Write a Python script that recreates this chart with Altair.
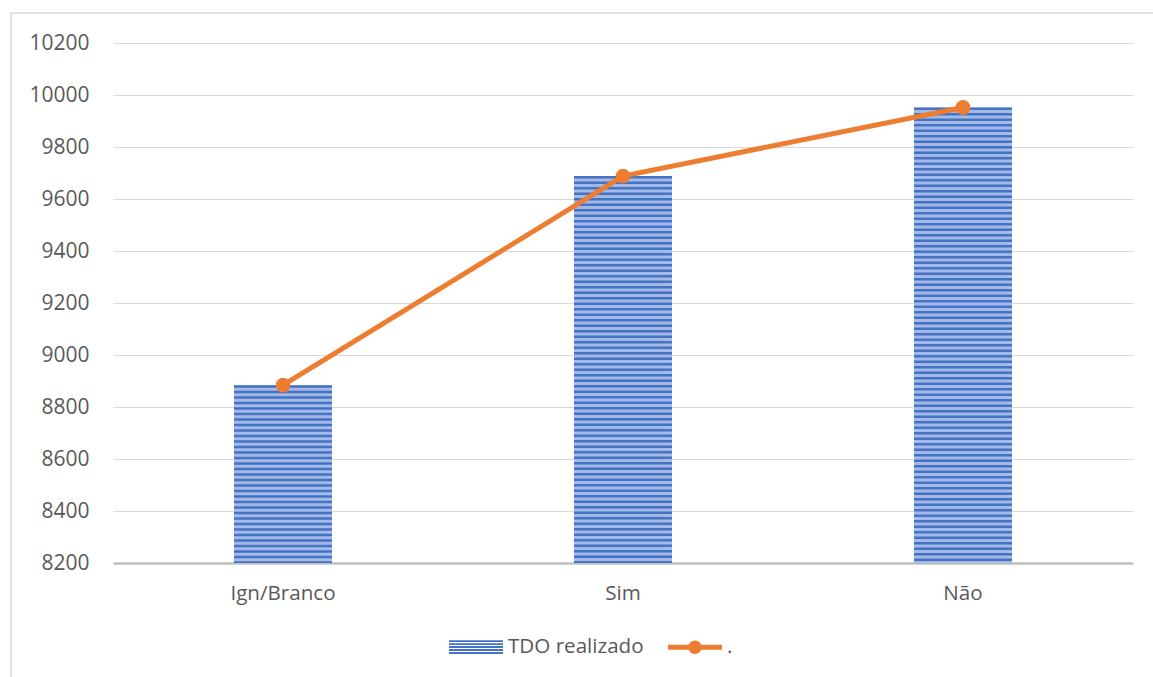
import altair as alt
import pandas as pd

categories = ["Ign/Branco", "Sim", "Não"]
tdo_realizado = [8884, 9688, 9952]
linha = [8884, 9688, 9952]
y_ticks = [8200, 8400, 8600, 8800, 9000, 9200, 9400, 9600, 9800, 10000, 10200]
legend_items = ["TDO realizado", "."]

df = pd.DataFrame({"cat": categories, "tdo": tdo_realizado, "linha": linha})
leg_df = pd.DataFrame({"s": legend_items})

FONT = "Open Sans"
TXT = "#595959"
BLUE = "#4472c4"
LIGHT = "#a4bae6"
ORANGE = "#ed7d31"

x_enc = alt.X(
    "cat:N",
    sort=categories,
    scale=alt.Scale(paddingInner=0.712, paddingOuter=0.356),
    axis=alt.Axis(
        title=None, labelAngle=0, ticks=False, domain=True,
        domainColor="#bfbfbf", domainWidth=2.5, labelPadding=20,
        labelFont=FONT, labelFontSize=20.6, labelColor=TXT, grid=False,
    ),
)
y_scale = alt.Scale(domain=[8200, 10200], nice=False, zero=False)
y_axis = alt.Axis(
    title=None, values=y_ticks, domain=False, ticks=False, grid=True,
    gridColor="#d9d9d9", gridWidth=1, labelPadding=24, labelFont=FONT,
    labelFontSize=21, labelColor=TXT, format="d",
)

base = alt.Chart(df)

border = alt.Chart(leg_df).mark_rect(
    fill=None, stroke="#d9d9d9", strokeWidth=1.5
).encode(
    x=alt.value(-102), x2=alt.value(1050), y=alt.value(-30), y2=alt.value(650)
).transform_filter(alt.datum.s == ".")

bars = base.mark_bar(color=LIGHT).encode(
    x=x_enc,
    y=alt.Y("tdo:Q", scale=y_scale, axis=y_axis),
    y2=alt.datum(8200),
)

stripes = base.mark_rule(
    color=BLUE, strokeWidth=98, strokeDash=[2.5, 3], strokeCap="butt"
).encode(
    x=alt.X("cat:N", sort=categories),
    y=alt.Y("tdo:Q"),
    y2=alt.datum(8200),
)

line = base.mark_line(color=ORANGE, strokeWidth=5).encode(
    x=alt.X("cat:N", sort=categories),
    y=alt.Y("linha:Q"),
)
points = base.mark_point(filled=True, color=ORANGE, size=220, opacity=1).encode(
    x=alt.X("cat:N", sort=categories),
    y=alt.Y("linha:Q"),
)

bar_path = " ".join(
    f"M-1,{-0.26 + k * 0.11:.3f}H1V{-0.26 + k * 0.11 + 0.07:.3f}H-1Z" for k in range(5)
)
line_path = (
    "M-1,-0.09H1V0.09H-1Z "
    "M0.25,0A0.25,0.25 0 1,1 -0.25,0A0.25,0.25 0 1,1 0.25,0Z"
)

legend_layer = alt.Chart(leg_df).mark_point(filled=True, opacity=1, size=2916).encode(
    x=alt.value(-2000),
    y=alt.value(-2000),
    color=alt.Color(
        "s:N",
        scale=alt.Scale(domain=legend_items, range=[BLUE, ORANGE]),
        legend=alt.Legend(
            title=None, orient="none", direction="horizontal",
            legendX=336, legendY=577, symbolOpacity=1, symbolStrokeWidth=0,
            symbolSize=2916, labelFont=FONT, labelFontSize=20.6, labelColor=TXT,
            labelOffset=5, columnPadding=24,
        ),
    ),
    shape=alt.Shape(
        "s:N",
        scale=alt.Scale(domain=legend_items, range=[bar_path, line_path]),
    ),
)

chart = alt.layer(border, bars, stripes, line, points, legend_layer).properties(
    width=1020,
    height=520,
    autosize=alt.AutoSizeParams(type="none"),
    padding={"left": 113, "top": 43, "right": 20, "bottom": 114},
    background="white",
).configure_view(stroke=None)

chart.save("out.html", embed_options={"renderer": "svg", "actions": False})
